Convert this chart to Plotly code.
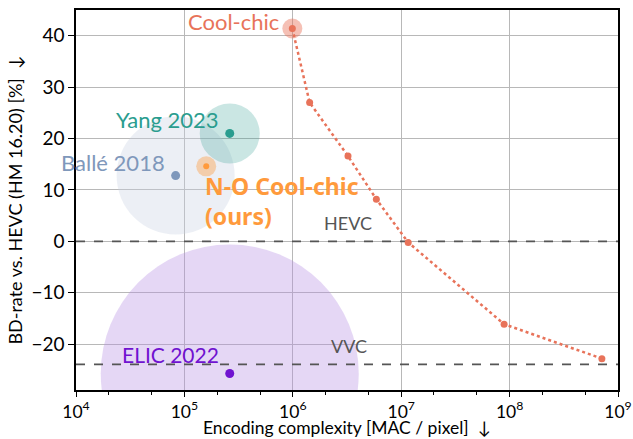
import plotly.graph_objects as go
import numpy as np

# Cool-chic operating points (encoding complexity, BD-rate)
coolchic_mac = [9.9e5, 1.43e6, 3.23e6, 5.9e6, 1.16e7, 8.9e7, 7.1e8]
coolchic_bd = [41.4, 27.0, 16.6, 8.2, -0.2, -16.1, -22.8]

# Single-point methods
methods = ["Yang 2023", "Ballé 2018", "N-O Cool-chic", "ELIC 2022"]
method_mac = [2.62e5, 8.3e4, 1.59e5, 2.62e5]
method_bd = [21.0, 12.8, 14.6, -25.7]

# Reference codecs
hevc_bd = 0.0
vvc_bd = -23.9

x_ticks = [1e4, 1e5, 1e6, 1e7, 1e8, 1e9]
x_ticklabels = ["10<sup>4</sup>", "10<sup>5</sup>", "10<sup>6</sup>",
                "10<sup>7</sup>", "10<sup>8</sup>", "10<sup>9</sup>"]
y_ticks = [-20, -10, 0, 10, 20, 30, 40]

c_cool = "#e8735a"
c_yang = "#2a9d8f"
c_balle = "#7f98bb"
c_ours = "#ff9a3c"
c_elic = "#7012d0"

fig = go.Figure()

# Halo bubbles (decoding-complexity proxies)
halo = [
    (method_mac[1], method_bd[1], 118, "rgba(200,210,225,0.35)"),
    (method_mac[0], method_bd[0], 60, "rgba(42,157,143,0.25)"),
    (method_mac[3], method_bd[3], 258, "rgba(180,140,225,0.35)"),
    (method_mac[2], method_bd[2], 20, "rgba(255,154,60,0.4)"),
    (coolchic_mac[0], coolchic_bd[0], 20, "rgba(232,115,90,0.45)"),
]
for hx, hy, hs, hc in halo:
    fig.add_trace(go.Scatter(x=[hx], y=[hy], mode="markers",
                             marker=dict(size=hs, color=hc, line=dict(width=0)),
                             hoverinfo="skip", showlegend=False))

# Reference codec lines
for yv in (hevc_bd, vvc_bd):
    fig.add_trace(go.Scatter(x=[1e4, 1e9], y=[yv, yv], mode="lines",
                             line=dict(color="#555555", width=1.8, dash="dash"),
                             showlegend=False, hoverinfo="skip"))

# Cool-chic curve
fig.add_trace(go.Scatter(x=coolchic_mac, y=coolchic_bd, mode="lines+markers",
                         line=dict(color=c_cool, width=2.5, dash="dot"),
                         marker=dict(size=7, color=c_cool),
                         showlegend=False))

# Method points
for name, mx, my, col in zip(methods, method_mac, method_bd,
                             [c_yang, c_balle, c_ours, c_elic]):
    fig.add_trace(go.Scatter(x=[mx], y=[my], mode="markers",
                             marker=dict(size=9 if name != "N-O Cool-chic" else 6, color=col),
                             name=name, showlegend=False))

lato = "Lato"
ann = [
    dict(x=np.log10(coolchic_mac[0]) - 0.1, y=42.8, text="Cool-chic", xanchor="right",
         font=dict(color=c_cool, size=22, family=lato)),
    dict(x=np.log10(method_mac[0]) - 0.08, y=23.8, text="Yang 2023", xanchor="right",
         font=dict(color=c_yang, size=22, family=lato)),
    dict(x=np.log10(method_mac[1]) - 0.08, y=15.3, text="Ballé 2018", xanchor="right",
         font=dict(color=c_balle, size=22, family=lato)),
    dict(x=np.log10(method_mac[2]) - 0.03, y=7.8,
         text="<b>N-O Cool-chic<br>(ours)</b>", xanchor="left", align="left",
         font=dict(color=c_ours, size=23, family="Noto Sans")),
    dict(x=np.log10(method_mac[3]) - 0.08, y=-22.0, text="ELIC 2022", xanchor="right",
         font=dict(color=c_elic, size=21, family=lato)),
    dict(x=6.27, y=3.5, text="HEVC", xanchor="left",
         font=dict(color="#555555", size=18, family=lato)),
    dict(x=6.33, y=-20.4, text="VVC", xanchor="left",
         font=dict(color="#555555", size=18, family=lato)),
]
for a in ann:
    fig.add_annotation(xref="x", yref="y", showarrow=False, yanchor="middle", **a)

# x-axis title placed just under the tick labels
fig.add_annotation(xref="paper", yref="paper", x=0.5, y=0, yshift=-50,
                   xanchor="center", yanchor="bottom", showarrow=False,
                   text="Encoding complexity [MAC / pixel]  ↓",
                   font=dict(size=17.5, family=lato, color="black"))

fig.update_xaxes(type="log", range=[4, 9], tickvals=x_ticks, ticktext=x_ticklabels,
                 ticks="outside", ticklen=5, tickcolor="black",
                 showline=True, linecolor="black", linewidth=1.5, mirror=True,
                 showgrid=True, gridcolor="#b8b8b8", gridwidth=1,
                 minor=dict(ticks="outside", ticklen=3, tickcolor="black", showgrid=False),
                 tickfont=dict(size=17.5, family=lato, color="black"),
                 automargin=False, zeroline=False)
fig.update_yaxes(range=[-28.9, 45], tickvals=y_ticks,
                 ticks="outside", ticklen=6, tickcolor="black",
                 showline=True, linecolor="black", linewidth=1.5, mirror=True,
                 showgrid=True, gridcolor="#b8b8b8", gridwidth=1,
                 tickfont=dict(size=19, family=lato, color="black"),
                 title=dict(text="BD-rate vs. HEVC (HM 16.20) [%]  ↓",
                            font=dict(size=18, family=lato, color="black"), standoff=4),
                 automargin=False, zeroline=False)

fig.update_layout(width=633, height=439, margin=dict(l=76, r=15, t=10, b=49),
                  plot_bgcolor="white", paper_bgcolor="white", showlegend=False)

fig.write_html("out.html")
